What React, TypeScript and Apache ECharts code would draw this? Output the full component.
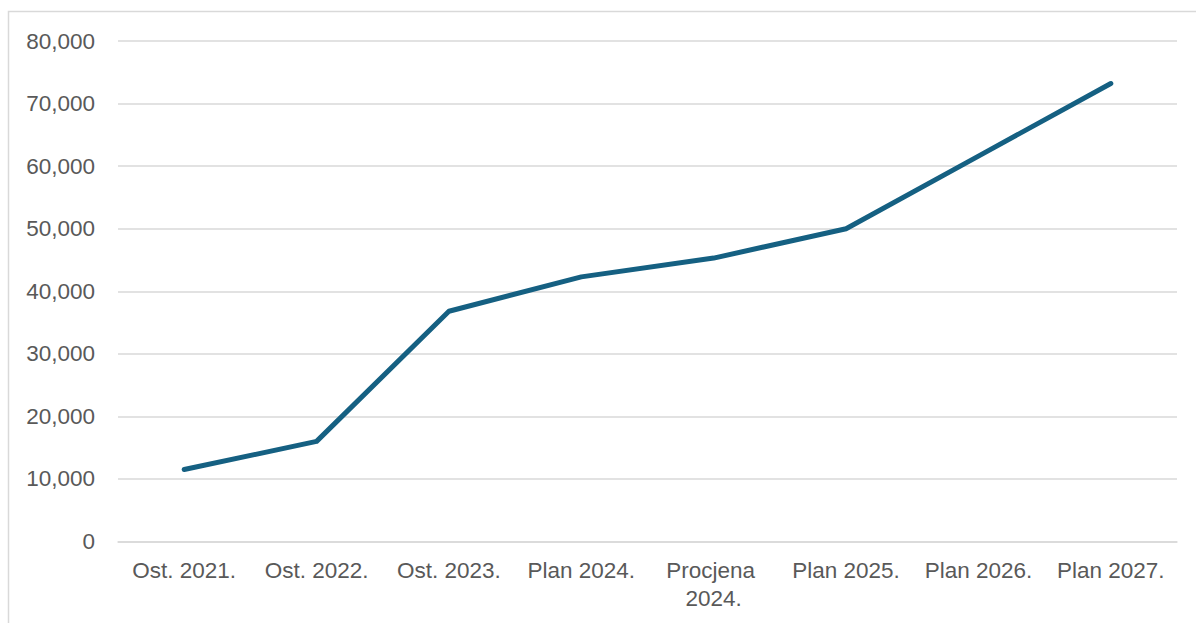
import React, { useEffect, useRef } from "react";
import * as echarts from "echarts";

const categories = [
  "Ost. 2021.",
  "Ost. 2022.",
  "Ost. 2023.",
  "Plan 2024.",
  "Procjena 2024.",
  "Plan 2025.",
  "Plan 2026.",
  "Plan 2027.",
];
const values = [11500, 16000, 36800, 42300, 45300, 50000, 61600, 73200];
const yMin = 0;
const yMax = 80000;
const yInterval = 10000;

function fmt(v: number): string {
  return String(v).replace(/\B(?=(\d{3})+(?!\d))/g, ",");
}

const FONT = "'Liberation Sans', Arimo, Arial, sans-serif";

export default function App() {
  const ref = useRef<HTMLDivElement>(null);
  useEffect(() => {
    if (!ref.current) return;
    const chart = echarts.init(ref.current, undefined, { renderer: "svg" });
    chart.setOption({
      animation: false,
      backgroundColor: "#ffffff",
      graphic: [
        {
          type: "rect",
          shape: { x: 8.5, y: 11.5, width: 1300, height: 800 },
          style: { fill: "none", stroke: "#d9d9d9", lineWidth: 1.5 },
          silent: true,
        },
      ],
      grid: { left: 118, right: 19, top: 41, bottom: 81.5, containLabel: false },
      xAxis: {
        type: "category",
        data: categories,
        boundaryGap: true,
        axisLine: { show: true, lineStyle: { color: "#d9d9d9", width: 1.5 } },
        axisTick: { show: false },
        axisLabel: {
          color: "#595959",
          fontFamily: FONT,
          fontSize: 22.5,
          margin: 15,
          lineHeight: 28,
          width: 128,
          overflow: "break",
          interval: 0,
        },
      },
      yAxis: {
        type: "value",
        min: yMin,
        max: yMax,
        interval: yInterval,
        axisLine: { show: false },
        axisTick: { show: false },
        splitLine: { lineStyle: { color: "#d9d9d9", width: 1.5 } },
        axisLabel: {
          color: "#595959",
          fontFamily: FONT,
          fontSize: 22.5,
          margin: 23,
          formatter: (v: number) => fmt(v),
        },
      },
      series: [
        {
          type: "line",
          data: values,
          symbol: "none",
          lineStyle: { color: "#156082", width: 5, cap: "round", join: "round" },
          itemStyle: { color: "#156082" },
        },
      ],
    });
    return () => chart.dispose();
  }, []);
  return (
    <div
      ref={ref}
      style={{ position: "absolute", left: 0, top: 0, width: 1196, height: 623 }}
    />
  );
}
